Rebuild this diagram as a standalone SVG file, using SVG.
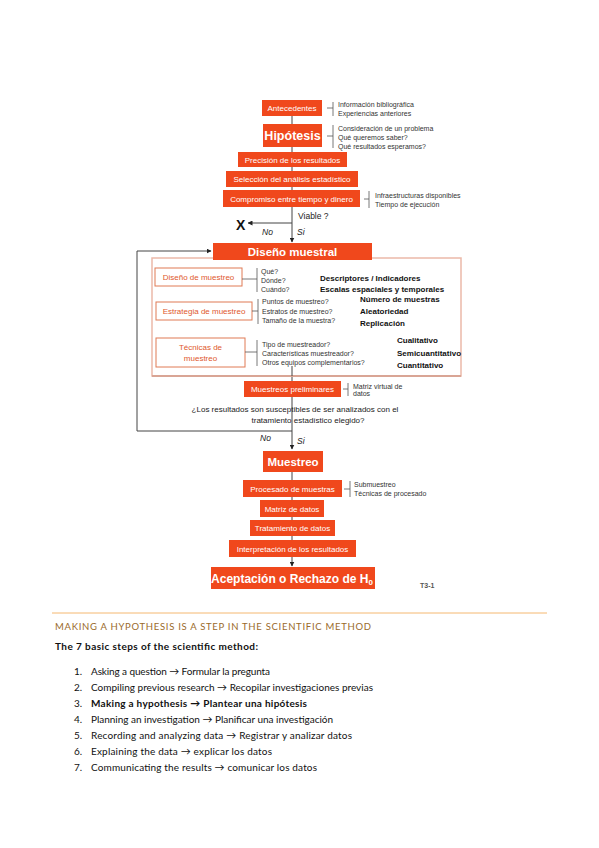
<svg xmlns="http://www.w3.org/2000/svg" width="599" height="848" viewBox="0 0 599 848">
<defs>
<marker id="ah" viewBox="0 0 10 10" refX="9" refY="5" markerWidth="5" markerHeight="5" orient="auto"><path d="M0,0 L10,5 L0,10 z" fill="#222"/></marker>
<style>
.box{fill:#f0481c}
.bt{font-family:"Liberation Sans",Arial,sans-serif;fill:#fff;text-anchor:middle;font-size:8px}
.btb{font-family:"Liberation Sans",Arial,sans-serif;fill:#fff;text-anchor:middle;font-weight:bold}
.ob{fill:#fff;stroke:#e07a55;stroke-width:1}
.ot{font-family:"Liberation Sans",Arial,sans-serif;fill:#e0582c;text-anchor:middle;font-size:8px}
.sm{font-family:"Liberation Sans",Arial,sans-serif;fill:#333;font-size:7px}
.bk{font-family:"Liberation Sans",Arial,sans-serif;fill:#111;font-size:8px;font-weight:bold}
.br{stroke:#555;stroke-width:0.8;fill:none}
.ln{stroke:#444;stroke-width:1;fill:none}
.it{font-family:"Liberation Sans",Arial,sans-serif;fill:#222;font-size:8.5px;font-style:italic}
.q{font-family:"Liberation Sans",Arial,sans-serif;fill:#222;font-size:8px;text-anchor:middle}
.doc{font-family:Lato,"Open Sans",sans-serif;fill:#111;font-size:10px}
</style>
</defs>

<g id="connectors">
<line class="ln" x1="292" y1="116" x2="292" y2="242" marker-end="url(#ah)"/>
<line class="ln" x1="292" y1="223" x2="248" y2="223" marker-end="url(#ah)"/>
<polyline class="ln" points="292,431 137,431 137,251 211,251" marker-end="url(#ah)"/>
<line class="ln" x1="292" y1="376" x2="292" y2="381"/>
<line class="ln" x1="292" y1="397" x2="292" y2="449" marker-end="url(#ah)"/>
<line class="ln" x1="292" y1="472" x2="292" y2="540"/>
<line class="ln" x1="292" y1="557" x2="292" y2="566" marker-end="url(#ah)"/>
<line x1="207" y1="287" x2="207" y2="299" stroke="#111" stroke-width="1.5" marker-end="url(#ah)"/>
<line x1="216" y1="299" x2="216" y2="287" stroke="#111" stroke-width="1.2" stroke-dasharray="2,1.5" marker-end="url(#ah)"/>
<line x1="207" y1="320" x2="207" y2="333" stroke="#111" stroke-width="1.5" marker-end="url(#ah)"/>
<line x1="216" y1="334" x2="216" y2="321" stroke="#111" stroke-width="1.2" stroke-dasharray="2,1.5" marker-end="url(#ah)"/>
<path d="M293,279.5 h12 v-4 l8,5.5 l-8,5.5 v-4 h-12 z" fill="#111"/>
<path d="M331,310.5 h11 v-4 l8,5.5 l-8,5.5 v-4 h-11 z" fill="#111"/>
<path d="M370,351.5 h10 v-4 l8,5.5 l-8,5.5 v-4 h-10 z" fill="#111"/>
</g>

<g id="diseno-frame">
<rect x="152" y="258" width="309" height="118" fill="#fff" stroke="#ebb9a9" stroke-width="1.5"/>
<line x1="152" y1="376" x2="461" y2="376" stroke="#d9a595" stroke-width="2"/>
<line x1="292" y1="366" x2="292" y2="376" class="ln"/>
</g>

<g id="antecedentes"><rect class="box" x="262" y="100" width="60" height="16"/><text class="bt" x="292" y="111">Antecedentes</text>
<path class="br" d="M327,108 h6 M333,102 v14"/>
<text class="sm" x="338" y="107">Información bibliográfica</text><text class="sm" x="338" y="116">Experiencias anteriores</text></g>

<g id="hipotesis"><rect class="box" x="263" y="124" width="59" height="23"/><text class="btb" x="292.5" y="140" font-size="12.5">Hipótesis</text>
<path class="br" d="M327,136 h6 M333,125 v23"/>
<text class="sm" x="338" y="131" font-size="6.5">Consideración de un problema</text><text class="sm" x="338" y="140" font-size="6.5">Qué queremos saber?</text><text class="sm" x="338" y="149" font-size="6.5">Qué resultados esperamos?</text></g>

<g id="precision"><rect class="box" x="238" y="152" width="109" height="15"/><text class="bt" x="292.5" y="163">Precisión de los resultados</text></g>
<g id="seleccion"><rect class="box" x="226" y="171" width="132" height="16"/><text class="bt" x="292" y="182">Selección del análisis estadístico</text></g>
<g id="compromiso"><rect class="box" x="223" y="190" width="137" height="17"/><text class="bt" x="291.5" y="202">Compromiso entre tiempo y dinero</text>
<path class="br" d="M364,199 h5 M369,191 v17"/>
<text class="sm" x="375" y="198">Infraestructuras disponibles</text><text class="sm" x="375" y="207">Tiempo de ejecución</text></g>

<g id="viable">
<text x="298" y="219" font-family="Liberation Sans,Arial,sans-serif" font-size="8.5" fill="#222">Viable ?</text>
<text x="236" y="230" font-family="Liberation Sans,Arial,sans-serif" font-size="14" font-weight="bold" fill="#111">X</text>
<text class="it" x="262" y="235">No</text><text class="it" x="297" y="235">Si</text>
</g>

<g id="diseno-muestral"><rect class="box" x="213" y="243" width="159" height="17"/><text class="btb" x="292.5" y="256" font-size="11.5">Diseño muestral</text></g>

<g id="diseno-de-muestreo"><rect class="ob" x="155" y="268" width="87" height="18"/><text class="ot" x="198.5" y="280">Diseño de muestreo</text>
<path class="br" d="M242,279 h15 M257,268 v24"/>
<text class="sm" x="261" y="274">Qué?</text><text class="sm" x="261" y="283">Dónde?</text><text class="sm" x="261" y="292">Cuándo?</text>
<text class="bk" x="320" y="281">Descriptores / Indicadores</text><text class="bk" x="320" y="292">Escalas espaciales y temporales</text></g>

<g id="estrategia"><rect class="ob" x="156" y="302" width="96" height="18"/><text class="ot" x="204" y="314">Estrategia de muestreo</text>
<path class="br" d="M252,311 h6 M258,299 v25"/>
<text class="sm" x="262" y="304">Puntos de muestreo?</text><text class="sm" x="262" y="313.5">Estratos de muestreo?</text><text class="sm" x="262" y="323">Tamaño de la muestra?</text>
<text class="bk" x="360" y="302">Número de muestras</text><text class="bk" x="360" y="314">Aleatoriedad</text><text class="bk" x="360" y="326">Replicación</text></g>

<g id="tecnicas"><rect class="ob" x="156" y="338" width="89" height="29"/><text class="ot" x="200.5" y="350">Técnicas de</text><text class="ot" x="200.5" y="361">muestreo</text>
<path class="br" d="M245,352 h12 M257,340 v26"/>
<text class="sm" x="262" y="347">Tipo de muestreador?</text><text class="sm" x="262" y="356">Características muestreador?</text><text class="sm" x="262" y="365">Otros equipos complementarios?</text>
<text class="bk" x="397" y="343">Cualitativo</text><text class="bk" x="397" y="356">Semicuantitativo</text><text class="bk" x="397" y="368">Cuantitativo</text></g>

<g id="muestreos-preliminares"><rect class="box" x="244" y="381" width="97" height="16"/><text class="bt" x="292.5" y="392">Muestreos preliminares</text>
<path class="br" d="M343,389 h5 M348,383 v13"/>
<text class="sm" x="353" y="389" font-size="5.8">Matriz virtual de</text><text class="sm" x="353" y="396" font-size="5.8">datos</text></g>

<g id="pregunta">
<text class="q" x="295" y="412">¿Los resultados son susceptibles de ser analizados con el</text>
<text class="q" x="308" y="423">tratamiento estadístico elegido?</text>
<text class="it" x="260" y="441">No</text><text class="it" x="297" y="444">Si</text>
</g>

<g id="muestreo"><rect class="box" x="263" y="451" width="60" height="21"/><text class="btb" x="293" y="466" font-size="11.5">Muestreo</text></g>
<g id="procesado"><rect class="box" x="243" y="480" width="99" height="17"/><text class="bt" x="292.5" y="492">Procesado de muestras</text>
<path class="br" d="M344,489 h6 M350,481 v16"/>
<text class="sm" x="354" y="487">Submuestreo</text><text class="sm" x="354" y="496">Técnicas de procesado</text></g>
<g id="matriz"><rect class="box" x="260" y="500" width="64" height="17"/><text class="bt" x="292" y="512">Matriz de datos</text></g>
<g id="tratamiento"><rect class="box" x="250" y="520" width="85" height="16"/><text class="bt" x="292.5" y="531">Tratamiento de datos</text></g>
<g id="interpretacion"><rect class="box" x="229" y="540" width="127" height="17"/><text class="bt" x="292.5" y="552" font-size="7.5">Interpretación de los resultados</text></g>
<g id="aceptacion"><rect class="box" x="211" y="567" width="164" height="22"/><text class="btb" x="292" y="583" font-size="12">Aceptación o Rechazo de H<tspan font-size="8" dy="2">0</tspan></text></g>
<text x="420" y="588" font-family="Liberation Sans,Arial,sans-serif" font-size="7" font-weight="bold" fill="#555">T3-1</text>

<g id="document-text">
<line x1="52" y1="613" x2="547" y2="613" stroke="#f5b870" stroke-width="1"/>
<text x="55" y="630" font-family="Lato,'Open Sans',sans-serif" font-size="9.5" fill="#9a6a2a" textLength="316" lengthAdjust="spacing">MAKING A HYPOTHESIS IS A STEP IN THE SCIENTIFIC METHOD</text>
<text class="doc" x="55" y="650" font-weight="bold" textLength="203" lengthAdjust="spacing">The 7 basic steps of the scientific method:</text>
<text class="doc" x="74" y="675">1.</text><text class="doc" x="91" y="675" textLength="179" lengthAdjust="spacing">Asking a question → Formular la pregunta</text>
<text class="doc" x="74" y="691">2.</text><text class="doc" x="91" y="691" textLength="282" lengthAdjust="spacing">Compiling previous research → Recopilar investigaciones previas</text>
<text class="doc" x="74" y="707">3.</text><text class="doc" x="91" y="707" font-weight="bold" textLength="216" lengthAdjust="spacing">Making a hypothesis → Plantear una hipótesis</text>
<text class="doc" x="74" y="723">4.</text><text class="doc" x="91" y="723" textLength="242" lengthAdjust="spacing">Planning an investigation → Planificar una investigación</text>
<text class="doc" x="74" y="739">5.</text><text class="doc" x="91" y="739" textLength="261" lengthAdjust="spacing">Recording and analyzing data → Registrar y analizar datos</text>
<text class="doc" x="74" y="755">6.</text><text class="doc" x="91" y="755" textLength="181" lengthAdjust="spacing">Explaining the data → explicar los datos</text>
<text class="doc" x="74" y="771">7.</text><text class="doc" x="91" y="771" textLength="226" lengthAdjust="spacing">Communicating the results → comunicar los datos</text>
</g>
</svg>
